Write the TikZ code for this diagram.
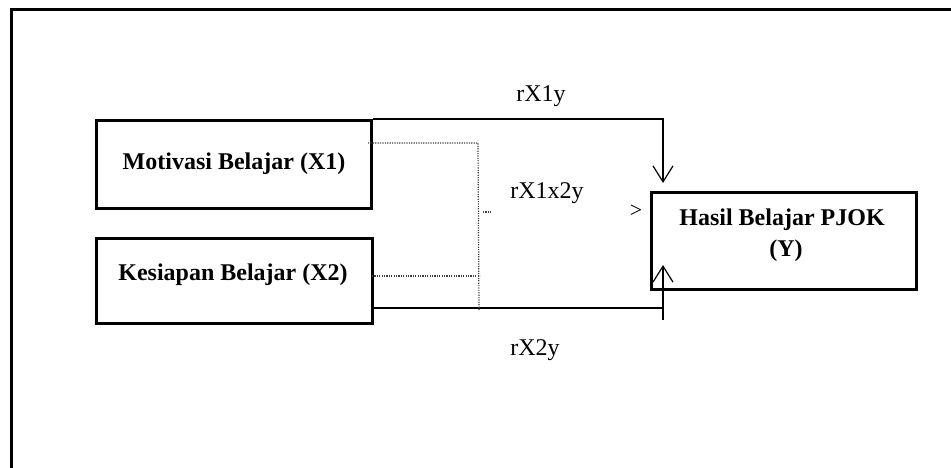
\documentclass[tikz,border=0pt]{standalone}
\usepackage{fontspec}
\setmainfont{Liberation Serif}
\usetikzlibrary{arrows.meta}
\begin{document}
\begin{tikzpicture}[x=1pt,y=-1pt,
  box/.style={draw, line width=3pt, inner sep=0pt},
  conn/.style={line width=1.3pt},
  dots/.style={line width=1.2pt, dash pattern=on 1.2pt off 1.2pt, black!75},
  lbl/.style={font=\fontsize{24}{28}\selectfont, anchor=base, inner sep=0pt},
  btxt/.style={font=\fontsize{24}{28}\selectfont\bfseries, anchor=base, inner sep=0pt},
  tip/.style={-{Straight Barb[length=16pt,width=20pt,line width=1.2pt]}}]
\useasboundingbox (0,0) rectangle (951,467);
% outer frame (only top and left visible)
\draw[line width=3pt] (11,470) -- (11,9) -- (955,9);
% boxes
\node[box, minimum width=275pt, minimum height=88pt, anchor=north west] (b1) at (95,119) {};
\node[box, minimum width=276pt, minimum height=85pt, anchor=north west] (b2) at (95,237) {};
\node[box, minimum width=265pt, minimum height=97pt, anchor=north west] (by) at (650,191) {};
\node[btxt] (t1) at (234,169) {Motivasi Belajar (X1)};
\node[btxt] (t2) at (233,280) {Kesiapan Belajar (X2)};
\node[btxt] (ty1) at (782,225) {Hasil Belajar PJOK};
\node[btxt] (ty2) at (786,256) {(Y)};
% labels
\node[lbl] (l1) at (541,101) {rX1y};
\node[lbl] (l12) at (547,198) {rX1x2y};
\node[lbl] (l2) at (535,355) {rX2y};
\node[font=\fontsize{22}{24}\selectfont, inner sep=0pt] (gt) at (636,211) {>};
% solid connectors
\coordinate (d1) at (663,183);
\draw[conn,tip] (b1.north east) -| (d1);
\coordinate (s2) at (371,308);
\coordinate (u0) at (663,320);
\coordinate (u1) at (663,265);
\draw[conn] (s2) -- (u0 |- s2);
\draw[conn,tip] (u0) -- (u1);
% dotted connectors
\coordinate (p1) at (368,143);
\coordinate (p2) at (478,143);
\coordinate (p3) at (479,310);
\draw[dots] (p1) -- (p2) -- (p3);
\coordinate (q1) at (372,276);
\coordinate (q2) at (480,276);
\draw[dots] (q1) -- (q2);
\coordinate (k1) at (483,212);
\coordinate (k2) at (491,212);
\draw[dots] (k1) -- (k2);
\end{tikzpicture}
\end{document}
